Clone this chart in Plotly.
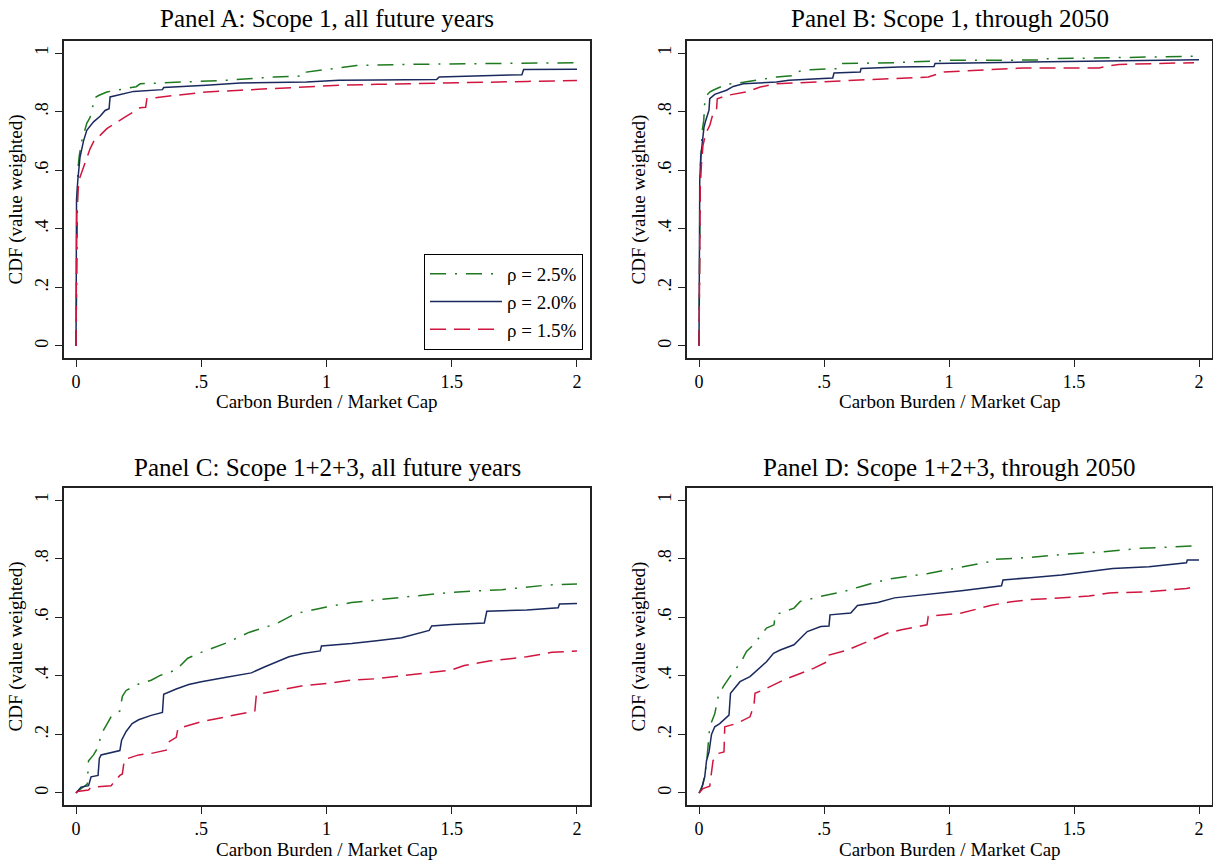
import plotly.graph_objects as go

# ---- CDF curves (value weighted) of carbon burden / market cap ----
# Panel A: Scope 1, all future years
A_X_25 = [0, 0.002, 0.004, 0.007, 0.013, 0.023, 0.033, 0.043, 0.056, 0.066, 0.07, 0.09, 0.123, 0.17, 0.216,
          0.24, 0.256, 0.39, 0.6, 0.79, 0.915, 0.92, 1.0, 1.07, 1.12, 1.3, 1.5, 1.8, 2.0]
A_Y_25 = [0, 0.25, 0.53, 0.6, 0.65, 0.70, 0.73, 0.76, 0.78, 0.81, 0.845, 0.855, 0.867, 0.875, 0.882,
          0.885, 0.895, 0.9, 0.907, 0.918, 0.922, 0.935, 0.943, 0.95, 0.957, 0.961, 0.963, 0.965, 0.967]
A_X_20 = [0, 0.001, 0.002, 0.007, 0.016, 0.03, 0.043, 0.07, 0.096, 0.116, 0.132, 0.136, 0.19, 0.23, 0.345,
          0.35, 0.52, 0.656, 0.92, 1.05, 1.2, 1.44, 1.45, 1.6, 1.78, 1.787, 2.0]
A_Y_20 = [0, 0.3, 0.5, 0.565, 0.645, 0.70, 0.736, 0.765, 0.784, 0.804, 0.81, 0.85, 0.861, 0.869, 0.875,
          0.882, 0.89, 0.898, 0.901, 0.907, 0.908, 0.91, 0.918, 0.922, 0.926, 0.944, 0.945]
A_X_15 = [0, 0.002, 0.003, 0.009, 0.016, 0.03, 0.043, 0.056, 0.076, 0.096, 0.123, 0.163, 0.2, 0.23, 0.256,
          0.278, 0.283, 0.39, 0.52, 0.656, 0.856, 1.05, 1.2, 1.5, 1.8, 2.0]
A_Y_15 = [0, 0.25, 0.45, 0.54, 0.577, 0.61, 0.645, 0.673, 0.708, 0.719, 0.742, 0.765, 0.784, 0.799, 0.813,
          0.815, 0.844, 0.855, 0.867, 0.873, 0.882, 0.89, 0.893, 0.899, 0.903, 0.906]

# Panel B: Scope 1, through 2050
B_X_25 = [0, 0.002, 0.003, 0.005, 0.01, 0.013, 0.019, 0.023, 0.03, 0.043, 0.056, 0.11, 0.177, 0.245, 0.31,
          0.37, 0.38, 0.446, 0.56, 0.567, 0.78, 1.0, 1.36, 1.37, 1.52, 1.67, 1.82, 1.95, 2.0]
B_Y_25 = [0, 0.3, 0.53, 0.6, 0.68, 0.736, 0.77, 0.833, 0.855, 0.867, 0.873, 0.893, 0.9, 0.909, 0.918,
          0.922, 0.935, 0.943, 0.947, 0.964, 0.967, 0.975, 0.976, 0.98, 0.982, 0.984, 0.986, 0.989, 0.989]
B_X_20 = [0, 0.001, 0.003, 0.007, 0.013, 0.02, 0.027, 0.036, 0.04, 0.043, 0.063, 0.11, 0.137, 0.177, 0.31,
          0.36, 0.45, 0.535, 0.54, 0.645, 0.648, 0.8, 0.94, 0.944, 1.32, 1.75, 2.0]
B_Y_20 = [0, 0.3, 0.565, 0.645, 0.70, 0.747, 0.77, 0.8, 0.805, 0.844, 0.859, 0.873, 0.886, 0.895, 0.901,
          0.907, 0.912, 0.915, 0.932, 0.935, 0.947, 0.952, 0.954, 0.964, 0.969, 0.975, 0.977]
B_X_15 = [0, 0.002, 0.005, 0.01, 0.016, 0.027, 0.043, 0.056, 0.07, 0.073, 0.11, 0.19, 0.245, 0.31, 0.446,
          0.648, 0.917, 0.98, 1.25, 1.3, 1.6, 1.63, 1.68, 1.8, 1.9, 1.98]
B_Y_15 = [0, 0.3, 0.543, 0.622, 0.685, 0.725, 0.753, 0.793, 0.804, 0.844, 0.855, 0.867, 0.884, 0.895, 0.9,
          0.909, 0.918, 0.935, 0.945, 0.949, 0.949, 0.955, 0.961, 0.963, 0.967, 0.967]

# Panel C: Scope 1+2+3, all future years
C_X_25 = [0, 0.005, 0.02, 0.045, 0.05, 0.07, 0.09, 0.1, 0.12, 0.14, 0.175, 0.185, 0.2, 0.25, 0.3, 0.338,
          0.4, 0.446, 0.5, 0.6, 0.69, 0.8, 0.875, 1.0, 1.1, 1.2, 1.3, 1.5, 1.7, 1.885, 2.0]
C_Y_25 = [0, 0.005, 0.015, 0.03, 0.11, 0.13, 0.16, 0.2, 0.23, 0.26, 0.28, 0.33, 0.35, 0.372, 0.385, 0.402,
          0.42, 0.46, 0.48, 0.512, 0.548, 0.578, 0.612, 0.635, 0.65, 0.66, 0.668, 0.685, 0.694, 0.71, 0.713]
C_X_20 = [0, 0.005, 0.02, 0.05, 0.06, 0.088, 0.093, 0.1, 0.15, 0.175, 0.182, 0.2, 0.224, 0.25, 0.3, 0.345,
          0.35, 0.4, 0.45, 0.5, 0.6, 0.7, 0.752, 0.8, 0.85, 0.905, 0.975, 0.98, 1.1, 1.2, 1.3, 1.41, 1.42,
          1.5, 1.63, 1.64, 1.8, 1.925, 1.93, 2.0]
C_Y_20 = [0, 0.005, 0.02, 0.025, 0.055, 0.06, 0.117, 0.13, 0.14, 0.145, 0.18, 0.21, 0.237, 0.25, 0.265,
          0.275, 0.337, 0.355, 0.37, 0.38, 0.395, 0.41, 0.43, 0.447, 0.465, 0.476, 0.485, 0.502, 0.51, 0.52,
          0.53, 0.555, 0.57, 0.575, 0.58, 0.62, 0.625, 0.632, 0.645, 0.647]
C_X_15 = [0, 0.005, 0.05, 0.06, 0.14, 0.175, 0.185, 0.193, 0.25, 0.3, 0.36, 0.369, 0.4, 0.407, 0.5, 0.6,
          0.714, 0.72, 0.8, 0.9, 1.0, 1.1, 1.2, 1.3, 1.4, 1.5, 1.55, 1.655, 1.8, 1.9, 2.0]
C_Y_15 = [0, 0.005, 0.01, 0.02, 0.025, 0.06, 0.065, 0.114, 0.13, 0.135, 0.146, 0.174, 0.19, 0.22, 0.243,
          0.26, 0.28, 0.336, 0.35, 0.365, 0.374, 0.385, 0.39, 0.399, 0.41, 0.42, 0.435, 0.451, 0.465, 0.48,
          0.485]

# Panel D: Scope 1+2+3, through 2050
D_X_25 = [0, 0.005, 0.016, 0.03, 0.036, 0.043, 0.063, 0.077, 0.097, 0.124, 0.17, 0.19, 0.218, 0.245, 0.27,
          0.3, 0.305, 0.38, 0.405, 0.487, 0.58, 0.648, 0.755, 0.917, 1.05, 1.165, 1.169, 1.325, 1.45, 1.61,
          1.765, 1.95, 1.98]
D_Y_25 = [0, 0.01, 0.03, 0.1, 0.16, 0.226, 0.27, 0.33, 0.363, 0.397, 0.45, 0.483, 0.506, 0.534, 0.563,
          0.574, 0.608, 0.631, 0.654, 0.671, 0.688, 0.705, 0.73, 0.749, 0.772, 0.79, 0.797, 0.804, 0.814,
          0.823, 0.835, 0.843, 0.843]
D_X_20 = [0, 0.005, 0.01, 0.023, 0.03, 0.04, 0.05, 0.063, 0.083, 0.11, 0.12, 0.126, 0.164, 0.204, 0.245,
          0.27, 0.298, 0.325, 0.38, 0.433, 0.487, 0.52, 0.524, 0.607, 0.634, 0.715, 0.782, 0.917, 1.05, 1.21,
          1.216, 1.325, 1.45, 1.655, 1.8, 1.95, 1.953, 2.0]
D_Y_20 = [0, 0.005, 0.015, 0.055, 0.11, 0.14, 0.2, 0.226, 0.237, 0.26, 0.266, 0.34, 0.38, 0.397, 0.43,
          0.448, 0.477, 0.488, 0.506, 0.551, 0.568, 0.57, 0.608, 0.614, 0.64, 0.65, 0.666, 0.677, 0.69, 0.707,
          0.727, 0.735, 0.744, 0.766, 0.772, 0.786, 0.795, 0.795]
D_X_15 = [0, 0.005, 0.016, 0.043, 0.056, 0.077, 0.1, 0.103, 0.15, 0.204, 0.22, 0.224, 0.27, 0.339, 0.405,
          0.46, 0.515, 0.52, 0.594, 0.661, 0.755, 0.81, 0.912, 0.917, 1.05, 1.17, 1.25, 1.325, 1.56, 1.64,
          1.8, 1.95, 1.99]
D_Y_15 = [0, 0.005, 0.015, 0.023, 0.11, 0.135, 0.14, 0.226, 0.237, 0.26, 0.3, 0.34, 0.357, 0.386, 0.409,
          0.426, 0.449, 0.471, 0.488, 0.511, 0.546, 0.557, 0.574, 0.603, 0.614, 0.641, 0.653, 0.66, 0.672,
          0.683, 0.687, 0.698, 0.706]

PANEL_TITLES = ["Panel A: Scope 1, all future years", "Panel B: Scope 1, through 2050",
                "Panel C: Scope 1+2+3, all future years", "Panel D: Scope 1+2+3, through 2050"]
SERIES_NAMES = ["ρ = 2.5%", "ρ = 2.0%", "ρ = 1.5%"]
X_TICKS = [0, 0.5, 1, 1.5, 2]
X_TICK_TEXT = ["0", ".5", "1", "1.5", "2"]
Y_TICKS = [0, 0.2, 0.4, 0.6, 0.8, 1]
Y_TICK_TEXT = ["0", ".2", ".4", ".6", ".8", "1"]
X_LABEL = "Carbon Burden / Market Cap"
Y_LABEL = "CDF (value weighted)"

PANELS = [
    [(A_X_25, A_Y_25), (A_X_20, A_Y_20), (A_X_15, A_Y_15)],
    [(B_X_25, B_Y_25), (B_X_20, B_Y_20), (B_X_15, B_Y_15)],
    [(C_X_25, C_Y_25), (C_X_20, C_Y_20), (C_X_15, C_Y_15)],
    [(D_X_25, D_Y_25), (D_X_20, D_Y_20), (D_X_15, D_Y_15)],
]

W, H = 1213, 861
FONT = "Liberation Serif, Times New Roman, serif"
LINE_STYLES = [
    dict(color="#1f7a1f", width=1.5, dash="16px,9px,2px,9px"),
    dict(color="#1b2a5e", width=1.5, dash="solid"),
    dict(color="#d0163f", width=1.5, dash="16px,8px"),
]

# plot-box positions in pixels (left, right, top, bottom)
BOXES = [(64, 590, 41, 358), (687, 1212, 41, 358), (64, 590, 488, 805), (687, 1212, 488, 805)]
TITLE_Y = [18, 467]
XLABEL_GAP = 44  # distance from box bottom to x-label centre

fig = go.Figure()
layout = dict(
    width=W, height=H, margin=dict(l=0, r=0, t=0, b=0),
    paper_bgcolor="white", plot_bgcolor="white",
    font=dict(family=FONT, size=18, color="black"),
    showlegend=True,
    legend=dict(x=583 / W, xanchor="right", y=1 - 350 / H, yanchor="bottom",
                bordercolor="black", borderwidth=1, bgcolor="white",
                font=dict(family=FONT, size=19), itemwidth=72, tracegroupgap=0),
    annotations=[],
)

for i, series in enumerate(PANELS):
    sfx = "" if i == 0 else str(i + 1)
    left, right, top, bottom = BOXES[i]
    for j, (xs, ys) in enumerate(series):
        fig.add_trace(go.Scatter(
            x=xs, y=ys, mode="lines", line=LINE_STYLES[j], name=SERIES_NAMES[j],
            showlegend=(i == 0), xaxis="x" + sfx, yaxis="y" + sfx, hoverinfo="skip"))
    axis_common = dict(showline=True, mirror=True, linecolor="#222", linewidth=1.5,
                       ticks="outside", ticklen=7, tickcolor="#222", tickwidth=1.2,
                       showgrid=False, zeroline=False, tickfont=dict(family=FONT, size=18))
    layout["xaxis" + sfx] = dict(
        axis_common, domain=[left / W, right / W], range=[-0.048, 2.052],
        tickvals=X_TICKS, ticktext=X_TICK_TEXT, anchor="y" + sfx)
    layout["yaxis" + sfx] = dict(
        axis_common, domain=[1 - bottom / H, 1 - top / H], range=[-0.041, 1.041],
        tickvals=Y_TICKS, ticktext=Y_TICK_TEXT, tickangle=-90, anchor="x" + sfx,
        title=dict(text=Y_LABEL, font=dict(family=FONT, size=19), standoff=4))
    layout["annotations"].append(dict(
        text=PANEL_TITLES[i], xref="paper", yref="paper",
        x=(left + right) / 2 / W, y=1 - TITLE_Y[i // 2] / H,
        xanchor="center", yanchor="middle", showarrow=False,
        font=dict(family=FONT, size=25, color="black")))
    layout["annotations"].append(dict(
        text=X_LABEL, xref="paper", yref="paper",
        x=(left + right) / 2 / W, y=1 - (bottom + XLABEL_GAP) / H,
        xanchor="center", yanchor="middle", showarrow=False,
        font=dict(family=FONT, size=19, color="black")))

fig.update_layout(**layout)
fig.write_html("out.html")
